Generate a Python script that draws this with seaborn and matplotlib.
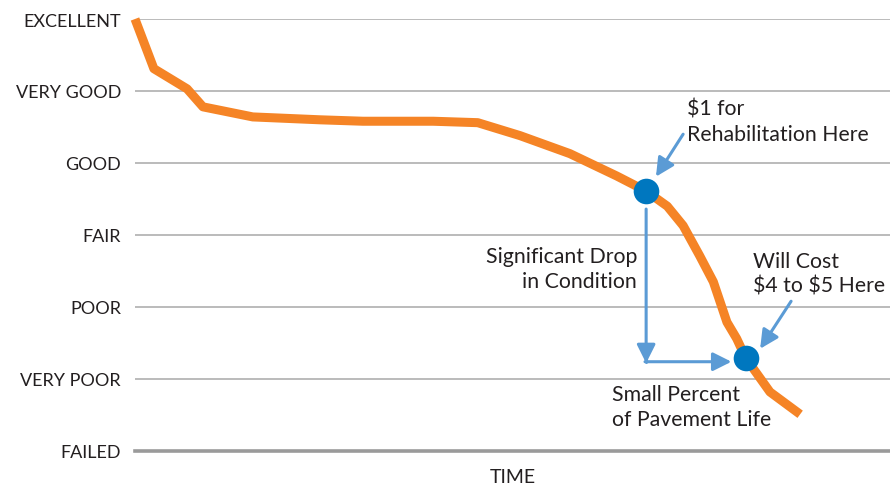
import matplotlib
matplotlib.use("Agg")
import matplotlib.pyplot as plt
import seaborn as sns
import pandas as pd

# condition levels, bottom to top
levels = ["FAILED", "VERY POOR", "POOR", "FAIR", "GOOD", "VERY GOOD", "EXCELLENT"]

# pavement condition curve (time in % of life, condition on level scale 0-6)
time_pct = [0.0, 2.5, 6.9, 9.0, 15.6, 24.5, 30.2, 39.5, 45.4, 51.0, 57.6,
            63.8, 67.7, 70.5, 72.6, 74.8, 76.6, 78.4, 79.7, 80.9, 84.1, 88.1]
condition = [6.0, 5.31, 5.03, 4.78, 4.64, 4.60, 4.58, 4.58, 4.56, 4.38, 4.13,
             3.82, 3.61, 3.40, 3.13, 2.71, 2.35, 1.79, 1.56, 1.29, 0.82, 0.51]

# the two cost points
point_time = [67.7, 80.9]
point_cond = [3.61, 1.29]

curve = pd.DataFrame({"time": time_pct, "condition": condition})
pts = pd.DataFrame({"time": point_time, "condition": point_cond})

sns.set_theme(style="white")
plt.rcParams["font.family"] = ["Lato", "DejaVu Sans"]
plt.rcParams["text.parse_math"] = False

ORANGE = "#F58426"
BLUE = "#0077BF"
ARROW = "#5B9BD5"
TEXT = "#231F20"

fig = plt.figure(figsize=(8.9, 4.85), dpi=100)
ax = fig.add_axes([135 / 890, 33 / 485, 755 / 890, 432 / 485])

sns.lineplot(data=curve, x="time", y="condition", ax=ax, color=ORANGE,
             linewidth=6.5, solid_capstyle="butt", clip_on=False, zorder=3)
sns.scatterplot(data=pts, x="time", y="condition", ax=ax, color=BLUE,
                s=340, linewidth=0, zorder=4, clip_on=False)

ax.set_xlim(0, 100)
ax.set_ylim(0, 6)
ax.set_yticks(range(len(levels)))
ax.set_yticklabels(levels)
ax.set_xticks([])
ax.tick_params(axis="y", length=0, pad=10, labelsize=13, labelcolor=TEXT)
ax.yaxis.grid(True, color="#A8A8A8", linewidth=1.1)
ax.set_axisbelow(True)
for side in ["top", "right", "left"]:
    ax.spines[side].set_visible(False)
ax.spines["bottom"].set_color("#9A9A9A")
ax.spines["bottom"].set_linewidth(2.6)
ax.set_xlabel("TIME", fontsize=14, color=TEXT, labelpad=12)
ax.set_ylabel("")

arrow_kw = dict(arrowstyle="-|>,head_length=0.7,head_width=0.35",
                color=ARROW, lw=2.2, mutation_scale=16, shrinkA=0, shrinkB=0)

# blue arrows
ax.annotate("", xy=(67.7, 1.22), xytext=(67.7, 3.36), arrowprops=arrow_kw)
ax.plot([67.7, 67.7], [1.24, 1.30], color=ARROW, lw=2.2)
ax.annotate("", xy=(79.0, 1.24), xytext=(67.55, 1.24), arrowprops=arrow_kw)
ax.annotate("", xy=(69.0, 3.81), xytext=(72.6, 4.40), arrowprops=arrow_kw)
ax.annotate("", xy=(82.8, 1.42), xytext=(86.9, 2.08), arrowprops=arrow_kw)

txt = dict(fontsize=15.3, color=TEXT, va="center", linespacing=1.3)
ax.text(73.1, 4.58, "$1 for\nRehabilitation Here", ha="left", **txt)
ax.text(66.5, 2.53, "Significant Drop\nin Condition", ha="right", multialignment="right", **txt)
ax.text(81.9, 2.47, "Will Cost\n$4 to $5 Here", ha="left", **txt)
ax.text(63.2, 0.62, "Small Percent\nof Pavement Life", ha="left", **txt)

fig.savefig("out.png", dpi=100)
